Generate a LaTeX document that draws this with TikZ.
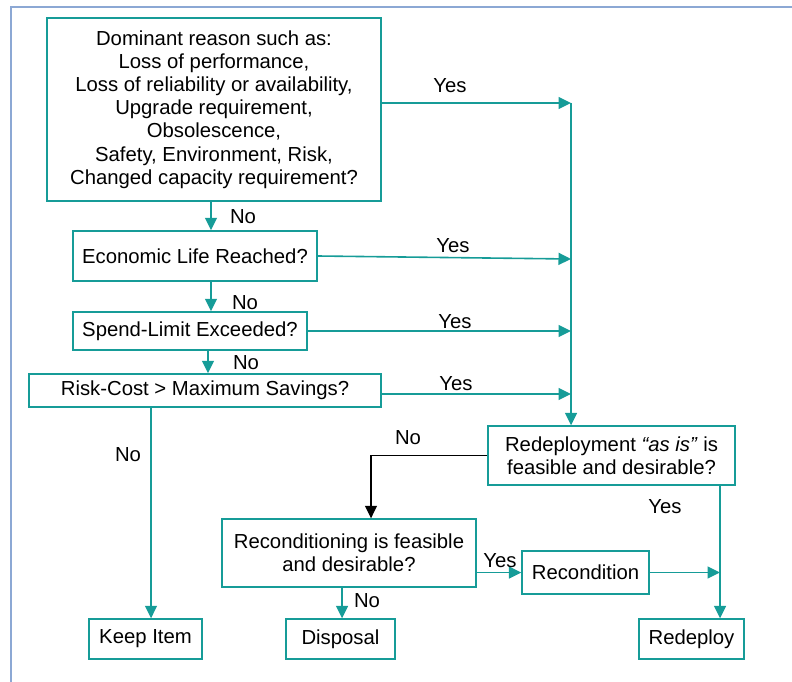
\documentclass[tikz,border=0pt]{standalone}
\usepackage{fontspec}
\setmainfont{Liberation Sans}
\usepackage{tikz}
\usetikzlibrary{arrows.meta, positioning}
\definecolor{tealline}{RGB}{22,156,152}
\definecolor{framecol}{RGB}{140,168,212}

\begin{document}
\begin{tikzpicture}[x=1pt, y=-1pt, >={Triangle[length=12.5pt, width=12pt]},
    box/.style={draw=tealline, line width=1.4pt, align=center, inner sep=0pt,
        font=\fontsize{20.3}{23.2}\selectfont},
    lbl/.style={font=\fontsize{20.3}{23.2}\selectfont, inner sep=0pt},
    flow/.style={->, tealline, line width=1.6pt}]
        \useasboundingbox (0,0) rectangle (792,682);
        \draw[framecol, line width=1.6pt] (11,682) -- (11,7) -- (792,7);

        % Nodes
        \node[box, minimum width=334pt, minimum height=183pt] (reason) at (214,109.5)
            {Dominant reason such as:\\ Loss of performance,\\ Loss of reliability or availability,\\
             Upgrade requirement,\\ Obsolescence,\\ Safety, Environment, Risk,\\ Changed capacity requirement?};
        \node[box, minimum width=244pt, minimum height=50pt] (econ) at (195,256) {Economic Life Reached?};
        \node[box, minimum width=234pt, minimum height=38pt] (spend) at (190,331) {Spend-Limit Exceeded?};
        \node[box, minimum width=352pt, minimum height=33pt] (risk) at (205,390.5) {Risk-Cost > Maximum Savings?};
        \node[box, minimum width=247pt, minimum height=59pt] (redepq) at (611.5,455.5)
            {Redeployment \textit{“as is”} is\\ feasible and desirable?};
        \node[box, minimum width=254pt, minimum height=68pt] (recondq) at (349,553)
            {Reconditioning is feasible\\ and desirable?};
        \node[box, minimum width=127pt, minimum height=43pt] (recond) at (585.5,572.5) {Recondition};
        \node[box, minimum width=113pt, minimum height=40pt] (keep) at (145.5,639) {Keep Item};
        \node[box, minimum width=109pt, minimum height=40pt] (disp) at (340.5,639) {Disposal};
        \node[box, minimum width=105pt, minimum height=40pt] (redep) at (691.5,639) {Redeploy};

        % Junctions
        \coordinate (colA) at (211,0);
        \coordinate (colB) at (208,0);
        \coordinate (colK) at (151,0);
        \coordinate (colN) at (371,0);
        \coordinate (colD) at (342,0);
        \coordinate (colR) at (720,0);
        \coordinate (j1) at (571,103);
        \coordinate (j2) at (571,259);
        \coordinate (j3) at (571,331);
        \coordinate (j4) at (571,394);

        % Directed edges
        \draw[flow] (reason.south -| colA) -- (econ.north -| colA);
        \draw[flow] (econ.south -| colA) -- (spend.north -| colA);
        \draw[flow] (spend.south -| colB) -- (risk.north -| colB);
        \draw[flow] (reason.east |- j1) -- (j1);
        \draw[flow] (econ.east) -- (j2);
        \draw[flow] (spend.east) -- (j3);
        \draw[flow] (risk.east |- j4) -- (j4);
        \draw[flow] (j1) -- (redepq.north -| j1);
        \draw[flow] (risk.south -| colK) -- (keep.north -| colK);
        \draw[->, line width=1.3pt] (redepq.west) -| (recondq.north -| colN);
        \draw[flow] (recondq.east |- recond.west) -- (recond.west);
        \draw[flow] (recondq.south -| colD) -- (disp.north -| colD);
        \draw[flow] (redepq.south -| colR) -- (redep.north -| colR);
        \draw[flow] (recond.east) -- (recond.east -| colR);

        % Labels
        \node[lbl] (no1) at (243,217) {No};
        \node[lbl] (no2) at (245,303) {No};
        \node[lbl] (no3) at (246,363) {No};
        \node[lbl] (no4) at (128,455) {No};
        \node[lbl] (no5) at (408,438) {No};
        \node[lbl] (no6) at (367,601) {No};
        \node[lbl] (yes1) at (450,86) {Yes};
        \node[lbl] (yes2) at (453,246) {Yes};
        \node[lbl] (yes3) at (455,322) {Yes};
        \node[lbl] (yes4) at (456,384) {Yes};
        \node[lbl] (yes5) at (665,507) {Yes};
        \node[lbl] (yes6) at (500,561) {Yes};
\end{tikzpicture}
\end{document}
